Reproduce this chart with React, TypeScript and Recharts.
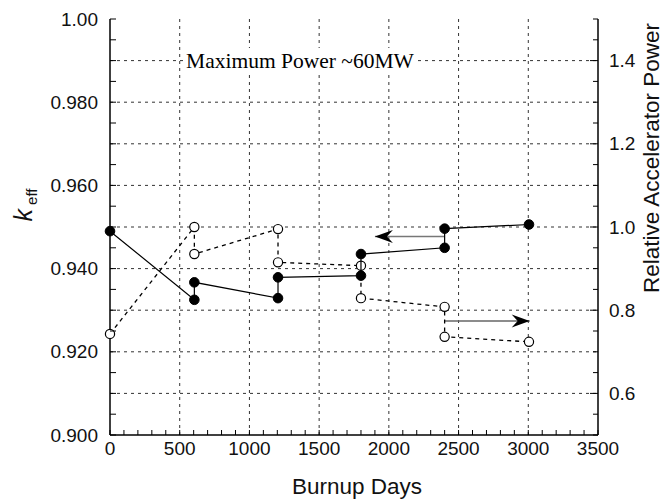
import { ComposedChart, Scatter, XAxis, YAxis, CartesianGrid, Label, Customized } from "recharts";

// filled circles: k_eff (left axis)
const kDays = [0, 605, 605, 1205, 1205, 1800, 1800, 2400, 2400, 3005];
const kEff = [0.949, 0.9325, 0.9367, 0.9329, 0.9379, 0.9383, 0.9435, 0.945, 0.9496, 0.9506];

// open circles: relative accelerator power (right axis)
const powerDays = [0, 605, 605, 1205, 1205, 1800, 1800, 2400, 2400, 3005];
const relPower = [0.743, 1.0, 0.935, 0.995, 0.915, 0.907, 0.829, 0.808, 0.736, 0.724];

// arrows pointing to the axis each series belongs to
const kArrowDays = [2400, 1900];
const kArrowY = [0.9477, 0.9477];
const powerArrowDays = [2400, 3010];
const powerArrowY = [0.774, 0.774];

// ticks
const dayTicks = Array.from({ length: 36 }, (_, i) => i * 100);
const dayLabels = [0, 500, 1000, 1500, 2000, 2500, 3000, 3500];
const dayGrid = [500, 1000, 1500, 2000, 2500, 3000];
const kTicks = Array.from({ length: 21 }, (_, i) => +(0.9 + i * 0.005).toFixed(3));
const kLabelValues = [0.9, 0.92, 0.94, 0.96, 0.98, 1.0];
const kLabelText = ["0.900", "0.920", "0.940", "0.960", "0.980", "1.00"];
const kGrid = [0.91, 0.92, 0.93, 0.94, 0.95, 0.96, 0.97, 0.98, 0.99];
const powerTicks = Array.from({ length: 21 }, (_, i) => +(0.5 + i * 0.05).toFixed(2));
const powerLabelValues = [0.6, 0.8, 1.0, 1.2, 1.4];
const powerLabelText = ["0.6", "0.8", "1.0", "1.2", "1.4"];

const kData = kDays.map((x, i) => ({ x, y: kEff[i] }));
const powerData = powerDays.map((x, i) => ({ x, y: relPower[i] }));
const kArrow = kArrowDays.map((x, i) => ({ x, y: kArrowY[i] }));
const powerArrow = powerArrowDays.map((x, i) => ({ x, y: powerArrowY[i] }));

const SANS = "'Liberation Sans', Arial, Helvetica, sans-serif";
const near = (a: number, b: number) => Math.abs(a - b) < 1e-6;

const BottomTick = (p: any) => {
  const v = p.payload.value;
  const show = dayLabels.some((d) => near(d, v));
  return (
    <g>
      <line x1={p.x} x2={p.x} y1={p.y} y2={p.y - 5} stroke="#000" strokeWidth={1} />
      {show && (
        <text x={p.x} y={p.y + 7} dy="0.71em" textAnchor="middle" fontSize={19} fontFamily={SANS} fill="#111">
          {v}
        </text>
      )}
    </g>
  );
};

const TopTick = (p: any) => (
  <line x1={p.x} x2={p.x} y1={p.y} y2={p.y + 5} stroke="#000" strokeWidth={1} />
);

const LeftTick = (p: any) => {
  const v = p.payload.value;
  const idx = kLabelValues.findIndex((d) => near(d, v));
  return (
    <g>
      <line x1={p.x} x2={p.x + 6} y1={p.y} y2={p.y} stroke="#000" strokeWidth={1} />
      {idx >= 0 && (
        <text x={p.x - 12} y={p.y} dy="0.35em" textAnchor="end" fontSize={19} fontFamily={SANS} fill="#111">
          {kLabelText[idx]}
        </text>
      )}
    </g>
  );
};

const RightTick = (p: any) => {
  const v = p.payload.value;
  const idx = powerLabelValues.findIndex((d) => near(d, v));
  const len = idx >= 0 ? 8 : 5;
  return (
    <g>
      <line x1={p.x} x2={p.x - len} y1={p.y} y2={p.y} stroke="#000" strokeWidth={1} />
      {idx >= 0 && (
        <text x={p.x + 11} y={p.y} dy="0.35em" textAnchor="start" fontSize={19} fontFamily={SANS} fill="#111">
          {powerLabelText[idx]}
        </text>
      )}
    </g>
  );
};

const Filled = (p: any) => <circle cx={p.cx} cy={p.cy} r={4.8} fill="#000" stroke="#000" />;
const Open = (p: any) => <circle cx={p.cx} cy={p.cy} r={4.6} fill="#fff" stroke="#000" strokeWidth={1.2} />;

// arrowhead drawn only at the tip point; dir +1 points left, -1 points right
const arrowHead = (tipX: number, dir: number) => (p: any) => {
  if (!near(p.payload.x, tipX)) return <g />;
  const { cx, cy } = p;
  return (
    <path
      d={`M${cx},${cy} L${cx + dir * 18},${cy - 6.5} L${cx + dir * 12},${cy} L${cx + dir * 18},${cy + 6.5} Z`}
      fill="#000"
    />
  );
};

const Annotation = () => (
  <g>
    <rect x={176} y={40} width={232} height={24} fill="#fff" />
    <text x={292} y={52} dy="0.35em" textAnchor="middle" fontSize={21.5} fontFamily="'Liberation Serif', 'Times New Roman', serif" fill="#000">
      Maximum Power ~60MW
    </text>
  </g>
);

export default function App() {
  return (
    <ComposedChart width={655} height={494} margin={{ top: 11, right: 0, bottom: 0, left: 0 }}>
      <CartesianGrid
        xAxisId="b"
        yAxisId="k"
        horizontalValues={kGrid}
        verticalValues={dayGrid}
        stroke="#333"
        strokeDasharray="3 4"
        strokeWidth={1}
      />
      <XAxis
        xAxisId="b"
        type="number"
        dataKey="x"
        domain={[0, 3500]}
        ticks={dayTicks}
        interval={0}
        tickSize={0}
        tickMargin={0}
        tickLine={false}
        tick={BottomTick}
        height={67}
        axisLine={{ stroke: "#000", strokeWidth: 1.5 }}
      >
        <Label value="Burnup Days" position="insideBottom" offset={8} dx={3} fontSize={22.5} fontFamily={SANS} fill="#111" />
      </XAxis>
      <XAxis
        xAxisId="t"
        orientation="top"
        type="number"
        dataKey="x"
        domain={[0, 3500]}
        ticks={dayTicks}
        interval={0}
        tickSize={0}
        tickMargin={0}
        tickLine={false}
        tick={TopTick}
        height={0}
        axisLine={{ stroke: "#000", strokeWidth: 1.5 }}
      />
      <YAxis
        yAxisId="k"
        type="number"
        dataKey="y"
        domain={[0.9, 1.0]}
        ticks={kTicks}
        interval={0}
        tickSize={0}
        tickMargin={0}
        tickLine={false}
        tick={LeftTick}
        width={102}
        axisLine={{ stroke: "#000", strokeWidth: 1.5 }}
      >
        <Label
          content={(p: any) => {
            const vb = p.viewBox;
            const cx = vb.x + 24;
            const cy = vb.y + vb.height / 2 - 22;
            return (
              <text transform={`translate(${cx},${cy}) rotate(-90)`} textAnchor="middle" fontFamily={SANS} fill="#111">
                <tspan fontStyle="italic" fontSize={25}>k</tspan>
                <tspan fontSize={15} dx={4} dy={5}>eff</tspan>
              </text>
            );
          }}
        />
      </YAxis>
      <YAxis
        yAxisId="p"
        orientation="right"
        type="number"
        dataKey="y"
        domain={[0.5, 1.5]}
        ticks={powerTicks}
        interval={0}
        tickSize={0}
        tickMargin={0}
        tickLine={false}
        tick={RightTick}
        width={65}
        axisLine={{ stroke: "#000", strokeWidth: 1.5 }}
      >
        <Label value="Relative Accelerator Power" angle={-90} position="center" dx={21} dy={-69} fontSize={22.5} fontFamily={SANS} fill="#111" />
      </YAxis>

      <Scatter
        xAxisId="b"
        yAxisId="p"
        data={powerArrow}
        line={{ stroke: "#666", strokeWidth: 1.4 }}
        lineType="joint"
        shape={arrowHead(powerArrowDays[1], -1)}
        isAnimationActive={false}
      />
      <Scatter
        xAxisId="b"
        yAxisId="k"
        data={kArrow}
        line={{ stroke: "#777", strokeWidth: 1.4 }}
        lineType="joint"
        shape={arrowHead(kArrowDays[1], 1)}
        isAnimationActive={false}
      />
      <Scatter
        xAxisId="b"
        yAxisId="p"
        data={powerData}
        line={{ stroke: "#000", strokeWidth: 1.3, strokeDasharray: "4 4" }}
        lineType="joint"
        shape={Open}
        isAnimationActive={false}
      />
      <Scatter
        xAxisId="b"
        yAxisId="k"
        data={kData}
        line={{ stroke: "#000", strokeWidth: 1.2 }}
        lineType="joint"
        shape={Filled}
        isAnimationActive={false}
      />
      <Customized component={Annotation} />
    </ComposedChart>
  );
}
